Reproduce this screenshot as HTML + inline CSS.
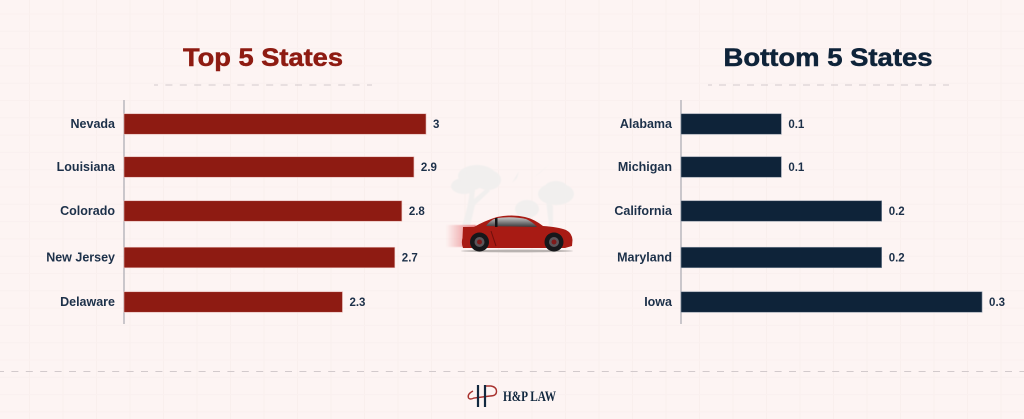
<!DOCTYPE html>
<html lang="en">
<head>
<meta charset="utf-8">
<title>Top 5 and Bottom 5 States</title>
<style>
html,body{margin:0;padding:0;background:#fdf4f3;}
body{width:1024px;height:419px;overflow:hidden;}
svg{display:block;}
text{font-family:"Liberation Sans",sans-serif;}
</style>
</head>
<body>
<svg id="chart" width="1024" height="419" viewBox="0 0 1024 419" xmlns="http://www.w3.org/2000/svg">
  <defs>
    <linearGradient id="trail" x1="0" x2="1" y1="0" y2="0">
      <stop offset="0" stop-color="#e0565a" stop-opacity="0"/>
      <stop offset="1" stop-color="#e0565a" stop-opacity="0.75"/>
    </linearGradient>
    <linearGradient id="glass" x1="0" x2="0" y1="0" y2="1">
      <stop offset="0" stop-color="#c8c8c8"/>
      <stop offset="1" stop-color="#3a3a3c"/>
    </linearGradient>
    <filter id="soft"><feGaussianBlur stdDeviation="0.5"/></filter>
  </defs>
  <rect width="1024" height="419" fill="#fdf4f3"/>
  <g id="grid"></g>

  <text x="263" y="66" text-anchor="middle" font-size="25" font-weight="700" fill="#8e1b12" stroke="#8e1b12" stroke-width="0.5" textLength="160" lengthAdjust="spacingAndGlyphs">Top 5 States</text>
  <line x1="154" x2="372" y1="85" y2="85" stroke="#d2cacc" stroke-width="1" stroke-dasharray="7 7.4" stroke-dashoffset="3"/>
  <text x="828" y="66" text-anchor="middle" font-size="25" font-weight="700" fill="#0e2339" stroke="#0e2339" stroke-width="0.5" textLength="209" lengthAdjust="spacingAndGlyphs">Bottom 5 States</text>
  <line x1="708" x2="949" y1="85" y2="85" stroke="#d2cacc" stroke-width="1" stroke-dasharray="7 7" stroke-dashoffset="3"/>

  <g id="top-chart"></g>
  <g id="bottom-chart"></g>

  <g>
    <g fill="#f1efee" filter="url(#soft)">
      <ellipse cx="477" cy="176" rx="19" ry="11"/>
      <ellipse cx="488" cy="180" rx="13" ry="10"/>
      <ellipse cx="464" cy="186" rx="13" ry="8"/>
      <ellipse cx="472" cy="181" rx="12" ry="9"/>
      <path d="M470 190 L475 190 L474 199 L487 188 L490 191 L475 205 L470 226 L462 226 Q468 208 470 190 Z"/>
      <ellipse cx="556" cy="194" rx="18" ry="11"/>
      <ellipse cx="556" cy="187" rx="11" ry="6"/>
      <path d="M546 200 L553 206 L553 226 L549 226 Z"/>
      <ellipse cx="527" cy="209" rx="12" ry="9"/>
      <path d="M533 178 L551 163 L541 172 Z"/>
      <path d="M512 183 L519 171 L517 178 Z"/>
    </g>
    <rect x="446" y="225" width="30" height="22" fill="url(#trail)" filter="url(#soft)"/>
    <ellipse cx="517" cy="251" rx="56" ry="1.4" fill="#b9b3b1"/>
    <path d="M463 227 L474 227 Q484 221 497 217 Q512 214 525 217 Q534 219 543 226 Q558 227 566 230 Q572 233 572.5 240 L572 246 L565 248 L463 248 Q461 243 462.500 238 Z" fill="#a81b14"/>
    <path d="M486 226 Q490 220 497 218 Q513 216 526 219 Q533 222 537 227 Z" fill="url(#glass)"/>
    <rect x="495" y="218" width="2.500" height="9" fill="#141416"/>
    <path d="M491 231 L496 246" stroke="#6f100c" stroke-width="1" fill="none"/>
    <g>
      <circle cx="479.500" cy="242" r="9.500" fill="#17171a"/>
      <circle cx="479.500" cy="242" r="5" fill="#5c555a"/>
      <circle cx="479.500" cy="242" r="2.500" fill="#7f1a1a"/>
    </g>
    <g>
      <circle cx="554" cy="242" r="9.500" fill="#17171a"/>
      <circle cx="554" cy="242" r="5" fill="#5c555a"/>
      <circle cx="554" cy="242" r="2.500" fill="#7f1a1a"/>
    </g>
  </g>

  <line x1="0" x2="1024" y1="371.500" y2="371.500" stroke="#d2cacc" stroke-width="1" stroke-dasharray="7 7.400" stroke-dashoffset="3"/>

  <g>
    <g fill="none">
      <path d="M473 391 Q467 394 468.500 398 Q470 400 474 398 L490 396" stroke="#a8322e" stroke-width="1.400"/>
      <path d="M485 386 L491 386 Q496.500 387 496.500 391.500 Q496.500 396 490 396" stroke="#a8322e" stroke-width="1.400"/>
      <line x1="478" x2="478" y1="385" y2="407" stroke="#12283f" stroke-width="2.200"/>
      <line x1="485" x2="485" y1="385" y2="407" stroke="#12283f" stroke-width="2.200"/>
    </g>
    <text x="503" y="401" font-size="14.500" font-weight="700" fill="#12283f" textLength="53" lengthAdjust="spacingAndGlyphs" style="font-family:'Liberation Serif',serif">H&amp;P LAW</text>
  </g>
</svg>

<script>
var topStates = ["Nevada", "Louisiana", "Colorado", "New Jersey", "Delaware"];
var topBarValues = [3, 2.88, 2.76, 2.69, 2.17];
var topValueLabels = ["3", "2.9", "2.8", "2.7", "2.3"];
var bottomStates = ["Alabama", "Michigan", "California", "Maryland", "Iowa"];
var bottomBarValues = [0.1, 0.1, 0.2, 0.2, 0.3];
var bottomValueLabels = ["0.1", "0.1", "0.2", "0.2", "0.3"];
var gridXCount = 31;
var gridYCount = 24;

var SVG_NS = "http://www.w3.org/2000/svg";

function make(tag, attrs, parent) {
  var el = document.createElementNS(SVG_NS, tag);
  for (var k in attrs) { el.setAttribute(k, attrs[k]); }
  parent.appendChild(el);
  return el;
}

function drawGrid() {
  var g = document.getElementById("grid");
  for (var i = 0; i < gridXCount; i++) {
    var vx = 29.5 + i * 33.5;
    var v = make("line", {x1: vx, x2: vx, y1: 0, y2: 419, stroke: "#f9efed", "stroke-width": 1}, g);
    
    
  }
  for (var j = 0; j < gridYCount; j++) {
    var hy = 14 + j * 17.3;
    var h = make("line", {x1: 0, x2: 1024, y1: hy, y2: hy, stroke: "#faf0ef", "stroke-width": 1}, g);
    
    
  }
}

function bandCenter(i) {
  var nudge = i === 1 ? -1.5 : (i === 2 ? -2 : 0);
  return 124 + i * 44.5 + nudge;
}

function drawChart(groupId, names, values, labels, x0, pxPerUnit, color, outline, prefix) {
  var g = document.getElementById(groupId);
  var axis = make("line", {x1: x0, x2: x0, y1: 100, y2: 324, stroke: "#a9a9b1", "stroke-width": 1.2}, g);
  
  
  for (var i = 0; i < names.length; i++) {
    var cy = bandCenter(i);
    var w = values[i] * pxPerUnit;
    var bar = make("rect", {x: x0, y: cy - 10.25, width: w, height: 20.5, fill: color, stroke: outline, "stroke-width": 0.6}, g);
    
    

    var name = make("text", {x: x0 - 9, y: cy + 3.8, "text-anchor": "end", "font-size": 12.5, "font-weight": 700, fill: "#1c3049"}, g);
    name.textContent = names[i];
    
    

    var val = make("text", {x: x0 + w + 7, y: cy + 3.8, "font-size": 11.5, "font-weight": 700, fill: "#1c3049"}, g);
    val.textContent = labels[i];
    
    
  }
}

drawGrid();
drawChart("top-chart", topStates, topBarValues, topValueLabels, 124, 100.67, "#8e1b12", "#e3b4b0", "top");
drawChart("bottom-chart", bottomStates, bottomBarValues, bottomValueLabels, 681, 1003.5, "#0e2339", "#8b97a6", "bottom");
</script>
</body>
</html>
